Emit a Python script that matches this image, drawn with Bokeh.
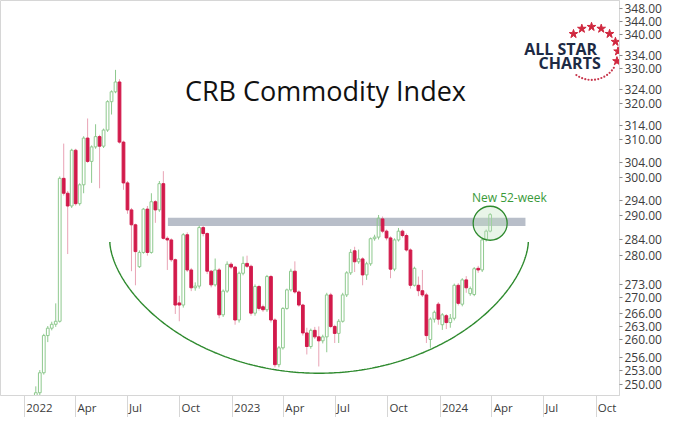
import numpy as np
import pandas as pd
from bokeh.plotting import figure
from bokeh.models import (FixedTicker, PrintfTickFormatter, CustomJSTickFormatter,
                          Range1d, LinearScale, Label, ColumnDataSource)
from bokeh.embed import file_html
from bokeh.resources import INLINE
from bokeh.core.properties import value

# ---------------- data (weekly candles) ----------------
first_week = "2022-01-14"
opens = [243.5, 245.3, 248.2, 252.6, 261.0, 262.7, 263.6, 264.3, 299.7, 295.8,
         292.5, 307.2, 293.1, 298.0, 310.5, 304.2, 308.1, 310.9, 308.3, 312.7,
         320.6, 323.4, 326.2, 309.4, 298.5, 291.5, 287.7, 277.3, 280.8, 291.7,
         280.8, 293.6, 291.5, 298.3, 284.3, 283.9, 279.0, 268.6, 268.1, 285.2,
         276.5, 272.2, 272.6, 287.0, 285.5, 276.2, 272.9, 276.5, 265.8, 271.4,
         277.9, 277.2, 264.6, 275.7, 278.1, 277.4, 266.2, 272.5, 267.7, 267.0,
         274.9, 264.6, 254.4, 258.2, 267.3, 271.7, 276.2, 271.2, 268.1, 261.6,
         258.5, 262.2, 260.7, 259.8, 260.7, 270.5, 263.1, 261.5, 264.3, 270.5,
         275.8, 281.2, 278.5, 279.2, 275.3, 278.0, 284.2, 284.6, 289.2, 286.1,
         284.4, 276.7, 283.9, 286.1, 285.0, 281.4, 272.8, 272.8, 271.5, 270.5,
         260.1, 264.8, 268.3, 263.5, 265.6, 264.0, 265.0, 272.8, 268.3, 274.1,
         270.8, 270.6, 276.9, 276.5, 284.1, 286.1]
highs = [246.2, 249.6, 253.2, 261.4, 263.2, 264.2, 268.5, 300.2, 309.0, 296.4,
         307.6, 307.6, 298.4, 311.0, 315.9, 308.5, 314.3, 311.4, 313.1, 321.0,
         323.8, 329.7, 327.0, 309.8, 299.0, 292.0, 288.0, 281.3, 292.0, 292.5,
         295.8, 294.0, 299.0, 301.6, 284.8, 284.3, 279.3, 270.3, 285.6, 285.8,
         277.0, 273.5, 287.5, 287.5, 285.8, 276.5, 279.3, 277.0, 271.8, 278.6,
         278.4, 277.5, 276.1, 279.8, 280.0, 277.8, 273.0, 272.9, 268.2, 275.3,
         275.3, 265.0, 258.6, 267.6, 272.0, 276.8, 278.6, 271.6, 268.4, 262.8,
         262.6, 263.0, 263.1, 261.2, 271.0, 271.0, 263.5, 264.8, 271.0, 276.2,
         281.6, 282.2, 281.5, 279.6, 278.5, 284.5, 285.2, 290.2, 289.8, 286.5,
         284.8, 284.3, 286.9, 286.5, 285.5, 281.8, 277.3, 274.9, 276.5, 271.0,
         265.2, 266.8, 268.8, 266.2, 266.0, 266.0, 273.2, 273.3, 274.5, 275.0,
         272.5, 277.2, 277.5, 284.3, 286.5, 290.7]
lows = [243.0, 245.0, 247.6, 252.2, 259.5, 262.2, 263.0, 264.0, 295.2, 280.4,
        292.0, 292.6, 292.6, 295.8, 303.8, 298.5, 307.6, 297.1, 307.8, 312.2,
        317.0, 323.0, 309.0, 296.7, 290.5, 276.2, 272.8, 277.0, 280.5, 280.0,
        280.5, 288.2, 291.0, 284.0, 276.5, 278.5, 266.0, 264.3, 267.5, 276.0,
        271.4, 271.5, 272.0, 284.8, 275.5, 272.3, 272.5, 265.0, 265.3, 271.0,
        276.7, 263.5, 264.0, 275.2, 277.0, 265.6, 265.6, 266.8, 266.5, 266.5,
        264.0, 253.8, 253.8, 257.8, 267.0, 271.3, 270.8, 267.7, 261.0, 256.7,
        258.0, 260.2, 254.0, 259.2, 257.2, 262.7, 259.3, 259.3, 264.0, 270.0,
        275.3, 276.0, 278.0, 272.8, 274.1, 277.5, 283.7, 284.0, 285.6, 283.8,
        274.5, 276.2, 283.5, 284.5, 281.0, 272.0, 272.5, 270.2, 270.0, 259.3,
        258.2, 264.0, 263.5, 262.3, 262.5, 262.8, 264.5, 268.0, 267.8, 271.0,
        270.3, 270.2, 275.8, 276.0, 283.5, 285.8]
closes = [245.8, 248.2, 252.6, 261.0, 262.7, 263.6, 264.3, 299.7, 295.8, 292.5,
          307.2, 293.1, 298.0, 310.5, 304.2, 308.1, 310.9, 308.3, 312.7, 320.6,
          323.4, 326.2, 309.4, 298.5, 291.5, 287.7, 281.0, 280.8, 291.7, 280.8,
          293.6, 291.5, 298.3, 284.3, 283.9, 279.0, 268.1, 268.1, 285.2, 276.5,
          272.2, 272.6, 287.0, 285.5, 276.2, 272.9, 276.5, 265.8, 271.4, 277.9,
          277.2, 264.6, 275.7, 278.1, 277.4, 266.2, 272.5, 267.3, 267.0, 274.9,
          264.6, 254.4, 258.2, 267.3, 271.7, 276.2, 271.2, 268.1, 261.6, 258.5,
          262.2, 260.7, 259.8, 260.7, 270.5, 263.1, 261.5, 264.3, 270.5, 275.8,
          280.8, 278.5, 279.2, 275.3, 278.0, 284.2, 284.6, 289.4, 286.1, 284.4,
          276.7, 283.9, 286.1, 285.0, 281.4, 272.8, 276.9, 271.5, 270.5, 261.0,
          264.8, 266.4, 264.8, 265.8, 264.0, 265.0, 272.8, 268.5, 274.1, 272.2,
          272.0, 276.8, 276.5, 283.9, 286.1, 290.3]

y_ticks = [245, 250, 253, 256, 260, 263, 266, 270, 273, 280, 284, 290, 294,
           300, 304, 310, 314, 320, 324, 330, 334, 340, 344, 348]
quarter_starts = list(pd.date_range("2022-01-01", "2024-10-01", freq="QS"))

band_start, band_end = "2022-09-10", "2024-05-30"
band_low, band_high = 287.4, 289.5
bowl_left, bowl_right = "2022-05-31", "2024-06-04"
bowl_rim, bowl_floor = 283.4, 252.5
high_mark = 288.1
note_date, note_level = "2024-02-26", 294.6

# ---------------- layout (frame size as Bokeh lays it out) ----------------
FW, FH = 621, 396
JAN1_X, PX_PER_DAY = 24.0, 0.5712      # horizontal scale of the original
Y250, PX_PER_LN = 385.0, 1140.0        # vertical (log) scale of the original
origin = pd.Timestamp("2022-01-01")
x0 = origin + pd.Timedelta(days=(0 - JAN1_X) / PX_PER_DAY)
x1 = origin + pd.Timedelta(days=(FW - JAN1_X) / PX_PER_DAY)
y_top = 250 * np.exp(Y250 / PX_PER_LN)
y_bot = 250 * np.exp((Y250 - FH) / PX_PER_LN)

dates = pd.date_range(first_week, periods=len(opens), freq="7D")
o = np.array(opens); c = np.array(closes); h = np.array(highs); l = np.array(lows)
top = np.maximum(o, c); bot = np.minimum(o, c)
up = c >= o

def sub(mask):
    return ColumnDataSource(dict(date=dates[mask], high=h[mask], low=l[mask],
                                 top=top[mask], bot=bot[mask]))

src_up, src_dn = sub(up), sub(~up)

p = figure(width=664, height=417, x_axis_type="datetime", y_axis_type="log",
           y_axis_location="right", output_backend="svg", toolbar_location=None,
           x_range=Range1d(x0, x1), y_range=Range1d(y_bot, y_top),
           min_border_left=0, min_border_top=0, min_border_bottom=0,
           min_border_right=0)
p.xgrid.visible = False
p.ygrid.visible = False
p.outline_line_color = "#d6d6d6"
p.background_fill_color = "white"
p.border_fill_color = "white"

p.extra_x_ranges = {"px": Range1d(0, FW)}
p.extra_y_ranges = {"px": Range1d(FH, 0)}
p.extra_x_scales = {"px": LinearScale()}
p.extra_y_scales = {"px": LinearScale()}

# y axis (right, log)
ya = p.yaxis[0]
ya.ticker = FixedTicker(ticks=y_ticks)
ya.formatter = PrintfTickFormatter(format="%.2f")
ya.major_tick_out = 3
ya.major_tick_in = 0
ya.minor_tick_out = 0
ya.minor_tick_in = 0
ya.major_label_standoff = 2
ya.major_label_text_font = "Open Sans"
ya.major_label_text_font_size = "12px"
ya.major_label_text_color = "#3c3c3c"
ya.axis_line_color = "#d6d6d6"
ya.major_tick_line_color = "#8a8a8a"

# x axis: labels just right of quarter separators
def label_pos(q):
    off = {1: 26.3, 4: 20.0, 7: 14.0, 10: 19.3}[q.month]
    return (q + pd.Timedelta(days=off)).value / 1e6

xa = p.xaxis[0]
xa.ticker = FixedTicker(ticks=[label_pos(q) for q in quarter_starts],
                        minor_ticks=[q.value / 1e6 for q in quarter_starts])
xa.formatter = CustomJSTickFormatter(code="""
const d = new Date(tick);
const m = d.getUTCMonth();
const names = ["Jan","Feb","Mar","Apr","May","Jun","Jul","Aug","Sep","Oct","Nov","Dec"];
return m == 0 ? String(d.getUTCFullYear()) : names[m];
""")
xa.major_tick_line_color = None
xa.major_tick_out = 0
xa.major_tick_in = 0
xa.minor_tick_in = 0
xa.minor_tick_out = 22
xa.minor_tick_line_color = "#d6d6d6"
xa.major_label_standoff = -18
xa.major_label_text_font = "Open Sans"
xa.major_label_text_font_size = "11.5px"
xa.major_label_text_color = "#3c3c3c"
xa.axis_line_color = "#d6d6d6"

# resistance band
p.quad(left=[pd.Timestamp(band_start)], right=[pd.Timestamp(band_end)],
       bottom=[band_low], top=[band_high], fill_color="#b8bec9",
       line_color=None)

# candles
W = 4.8 * 24 * 3600 * 1000
GREEN = "#8ec98e"
RED = "#d21a4b"
PINK = "#e9a3b5"
for src, wick, body_line, body_fill in ((src_up, GREEN, GREEN, None),
                                        (src_dn, PINK, RED, RED)):
    p.segment(x0="date", y0="high", x1="date", y1="top", source=src,
              line_color=wick, line_width=1)
    p.segment(x0="date", y0="bot", x1="date", y1="low", source=src,
              line_color=wick, line_width=1)
    p.vbar(x="date", width=W, top="top", bottom="bot", source=src,
           fill_color=body_fill, line_color=body_line, line_width=1)

# rounding-bottom arc
L = pd.Timestamp(bowl_left).value / 1e6
R = pd.Timestamp(bowl_right).value / 1e6
t = np.linspace(0, np.pi, 240)
bx = (L + R) / 2 - (R - L) / 2 * np.cos(t)
by = np.exp(np.log(bowl_rim) - (np.log(bowl_rim) - np.log(bowl_floor)) * np.sin(t) ** 1.2)
p.line(bx, by, line_color="#2e8a2e", line_width=1.4)

# breakout circle + note
p.scatter(x=[dates[-1]], y=[high_mark], size=34, marker="circle",
          fill_color="#bfe3bf", fill_alpha=0.35, line_color="#2e8a2e",
          line_width=1.3)
p.text(x=[pd.Timestamp(note_date)], y=[note_level], text=["New 52-week"],
       text_font=value("Open Sans"), text_font_size="12px",
       text_color="#3a9a3a", text_baseline="middle", text_align="left")

# title
p.add_layout(Label(x=326, y=90, x_range_name="px", y_range_name="px",
                   text="CRB Commodity Index", text_font="Open Sans",
                   text_font_size="27px", text_color="#111111",
                   text_align="center", text_baseline="middle"))

# logo
p.add_layout(Label(x=562, y=49, x_range_name="px", y_range_name="px",
                   text="ALL STAR", text_font="Open Sans", text_font_style="bold",
                   text_font_size="16px", text_color="#1d2a44",
                   text_align="center", text_baseline="middle"))
p.add_layout(Label(x=571, y=63, x_range_name="px", y_range_name="px",
                   text="CHARTS", text_font="Open Sans", text_font_style="bold",
                   text_font_size="16px", text_color="#1d2a44",
                   text_align="center", text_baseline="middle"))
ang = np.radians(np.linspace(-133, 17, 8))
p.scatter(593 + 26.6 * np.cos(ang), 53 + 26.6 * np.sin(ang), marker="star",
          size=9, fill_color="#d0283f", line_color="#d0283f",
          x_range_name="px", y_range_name="px")
ang2 = np.radians(np.linspace(33, 125, 14))
p.scatter(593 + 26.6 * np.cos(ang2), 53 + 26.6 * np.sin(ang2), marker="circle",
          size=2.2, fill_color="#c8384e", line_color=None,
          x_range_name="px", y_range_name="px")

open("out.html", "w").write(file_html(p, INLINE))
